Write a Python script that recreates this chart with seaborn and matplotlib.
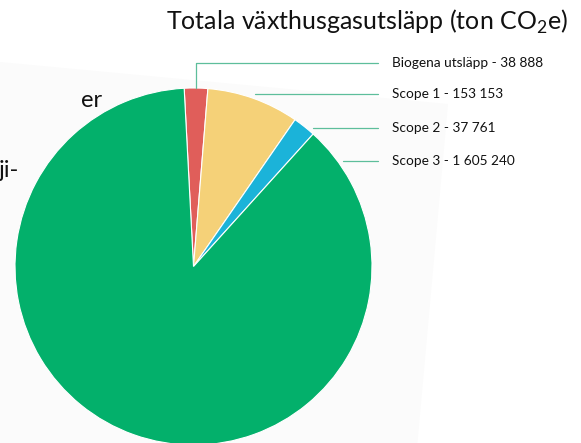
import numpy as np
import seaborn as sns
import matplotlib.pyplot as plt
from matplotlib.patches import Polygon

# Chart data
categories = ["Biogena utsläpp", "Scope 1", "Scope 2", "Scope 3"]
values = [38888, 153153, 37761, 1605240]
value_labels = ["38 888", "153 153", "37 761", "1 605 240"]
colors = ["#E05E5A", "#F5D178", "#1BB3D9", "#03B06B"]
title = "Totala växthusgasutsläpp (ton CO$_\\mathregular{2}$e)"
side_text = ["er", "ji-"]

sns.set_theme(style="white")
plt.rcParams["font.family"] = ["Lato", "DejaVu Sans"]
plt.rcParams["mathtext.fontset"] = "custom"
plt.rcParams["mathtext.rm"] = "Lato"

W, H = 581, 443
fig = plt.figure(figsize=(W / 100, H / 100), dpi=100)
ax = fig.add_axes([0, 0, 1, 1])

# pie geometry in pixel units (y measured upwards)
cx, cy, R = 193.5, H - 266.5, 178.5

# faint tilted sheet behind the pie
sheet = Polygon([(0, H - 62), (448, H - 104), (417, -5), (0, -5)],
                closed=True, facecolor="#fbfbfb", edgecolor="none", zorder=0)
ax.add_patch(sheet)

wedges, _ = ax.pie(values, colors=colors, startangle=93, counterclock=False,
                   center=(cx, cy), radius=R,
                   wedgeprops=dict(edgecolor="white", linewidth=0.8))
ax.set_xlim(0, W)
ax.set_ylim(0, H)
ax.set_aspect("equal")
ax.axis("off")

# leader lines and labels
line_color = "#5DBE9B"
line_end_x, text_x = 378, 392
anchor_frac = [0.5, 0.5, 0.2, 0.96]
elbow_y = H - 63
for i, w in enumerate(wedges):
    ang = np.deg2rad(w.theta1 + anchor_frac[i] * (w.theta2 - w.theta1))
    if i == 0:
        x0 = cx + R * np.cos(ang)
        y0 = cy + R * np.sin(ang)
        ax.plot([x0, x0, line_end_x], [y0, elbow_y, elbow_y],
                color=line_color, lw=0.9, zorder=3)
        ly = elbow_y
    else:
        r = R * 1.025
        x0 = cx + r * np.cos(ang)
        ly = cy + r * np.sin(ang)
        ax.plot([x0, line_end_x], [ly, ly], color=line_color, lw=0.9, zorder=3)
    ax.text(text_x, ly, f"{categories[i]} - {value_labels[i]}",
            fontsize=9.8, color="#111111", ha="left", va="center")

ax.text(568, H - 22, title, fontsize=18, color="#111111", ha="right", va="center")
ax.text(81, H - 100, side_text[0], fontsize=17, color="#111111", ha="left", va="center")
ax.text(-1, H - 170, side_text[1], fontsize=17, color="#111111", ha="left", va="center")

fig.savefig("out.png", dpi=100)
